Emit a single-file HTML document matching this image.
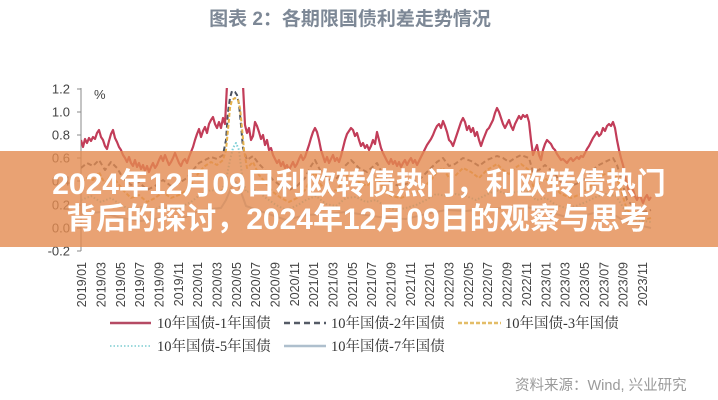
<!DOCTYPE html>
<html><head><meta charset="utf-8"><style>
html,body{margin:0;padding:0;background:#fff;}
svg{display:block;}
</style></head><body>
<svg width="718" height="400" viewBox="0 0 718 400" xmlns="http://www.w3.org/2000/svg">
<rect width="718" height="400" fill="#fff"/>
<text x="350" y="25" text-anchor="middle" font-family="Liberation Sans, Noto Sans CJK SC, sans-serif" font-size="19" font-weight="bold" fill="#7d8896">图表 2：各期限国债利差走势情况</text>

<!-- y axis -->
<g stroke="#888" stroke-width="1" fill="none">
<line x1="81" y1="88" x2="81" y2="251"/>
<line x1="77" y1="89" x2="81" y2="89"/>
<line x1="77" y1="112" x2="81" y2="112"/>
<line x1="77" y1="135" x2="81" y2="135"/>
<line x1="77" y1="158" x2="81" y2="158"/>
<line x1="77" y1="181" x2="81" y2="181"/>
<line x1="77" y1="205" x2="81" y2="205"/>
<line x1="77" y1="228" x2="81" y2="228"/>
<line x1="77" y1="251" x2="81" y2="251"/>
</g>
<g font-family="Liberation Sans, sans-serif" font-size="13" fill="#444" text-anchor="end">
<text x="70" y="93.5">1.2</text>
<text x="70" y="116.5">1.0</text>
<text x="70" y="139.5">0.8</text>
<text x="70" y="162.5">0.6</text>
<text x="70" y="185.5">0.4</text>
<text x="70" y="209.5">0.2</text>
<text x="70" y="232.5">0.0</text>
<text x="70" y="255.5">-0.2</text>
</g>
<text x="94" y="99" font-family="Liberation Sans, sans-serif" font-size="13" fill="#444">%</text>

<defs><clipPath id="cp"><rect x="81" y="88" width="580" height="165"/></clipPath></defs>
<g clip-path="url(#cp)" fill="none" stroke-linejoin="round">
<polyline stroke="#c23d59" stroke-width="2.2" points="81,140 83,147 85,139 87,143 89,138 91,141 93,137 95,139 97,133 99,130 101,137 103,140 105,146 107,149 109,141 111,134 113,130 115,138 117,142 119,147 121,150 123,155 125,158 127,162 129,157 131,163 133,166 135,160 137,167 139,163 141,169 143,165 145,171 147,166 149,172 151,167 153,163 155,168 157,165 159,160 161,156 163,161 165,155 167,160 169,165 171,162 173,158 175,153 177,158 179,163 181,166 183,161 185,159 187,163 189,157 191,152 193,147 195,140 197,134 199,129 201,137 203,131 205,127 207,133 209,124 211,120 213,117 215,124 217,128 219,122 221,128 223,118 225,124 227,85 243,85 245,125 247,133 249,128 251,140 253,136 255,122 257,126 259,132 261,139 263,135 265,145 267,140 269,150 271,148 273,155 275,159 277,163 279,160 281,166 283,162 285,168 287,165 289,170 291,166 293,162 295,167 297,164 299,159 301,155 303,160 305,157 307,151 309,145 311,138 313,132 315,128 317,132 319,140 321,150 323,156 325,162 327,157 329,163 331,159 333,155 335,161 337,158 339,162 341,156 343,148 345,140 347,134 349,131 351,128 353,130 355,136 357,133 359,140 361,146 363,143 365,148 367,145 369,150 371,146 373,140 375,144 377,132 379,140 381,148 383,153 385,157 387,161 389,164 391,159 393,164 395,161 397,166 399,162 401,167 403,163 405,160 407,165 409,161 411,158 413,163 415,160 417,165 419,161 421,157 423,153 425,149 427,145 429,142 431,139 433,135 435,130 437,126 439,124 441,128 443,121 445,126 447,132 449,140 451,142 453,146 455,140 457,134 459,128 461,122 463,118 465,122 467,130 469,126 471,132 473,128 475,136 477,132 479,140 481,146 483,140 485,135 487,130 489,128 491,124 493,120 495,113 497,108 499,112 501,118 503,124 505,128 507,124 509,120 511,126 513,130 515,124 517,120 519,116 521,119 523,115 525,117 527,115 529,122 531,140 533,155 535,150 537,145 539,155 541,160 543,150 545,144 547,140 549,142 551,144 553,148 555,150 557,154 559,157 561,160 563,159 565,161 567,163 569,160 571,158 573,161 575,159 577,157 579,159 581,156 583,157 585,153 587,149 589,146 591,142 593,138 595,135 597,132 599,136 601,134 603,128 605,131 607,126 609,124 611,126 613,122 615,128 617,140 619,150 621,158 623,165 625,175 627,185 629,192 631,195 633,190 635,196 637,200 639,195 641,198 643,203 645,198 647,195 649,200 651,197"/>
<polyline stroke="#4b5260" stroke-width="2" stroke-dasharray="5,3" points="81,168 87,163 93,166 99,160 105,170 111,162 117,168 123,178 131,185 139,182 147,190 155,186 163,180 171,186 179,183 187,178 193,170 199,163 205,160 211,157 217,159 223,155 226,140 228,112 230,98 232,91 235,92 237,95 239,104 241,125 243,148 247,160 253,156 259,164 265,170 273,180 281,186 289,190 297,186 305,178 311,166 315,160 321,172 329,180 337,178 345,166 351,160 359,168 367,172 377,163 383,175 391,184 401,186 411,182 421,178 431,168 437,162 443,158 449,166 455,164 463,158 471,161 479,166 487,160 497,156 503,158 509,162 515,158 521,155 529,158 533,172 539,170 545,165 553,172 561,182 571,186 581,182 589,175 597,166 605,162 613,158 617,165 621,178 627,200 635,208 643,212 651,210"/>
<polyline stroke="#e6b24c" stroke-width="2" stroke-dasharray="4,2" points="81,182 87,178 93,180 99,172 105,184 111,175 117,182 123,190 131,198 139,195 147,202 155,198 163,192 171,198 179,195 187,190 193,182 199,172 205,166 211,162 217,165 223,160 226,150 228,130 230,108 232,100 235,98 238,100 240,108 242,128 244,150 247,168 253,162 259,175 265,182 273,192 281,198 289,202 297,198 305,190 311,178 315,172 321,185 329,192 337,190 345,178 351,172 359,182 367,186 377,176 383,188 391,196 401,198 411,194 421,190 431,180 437,172 443,168 449,178 455,176 463,168 471,172 479,178 487,170 497,164 503,170 509,174 515,168 521,164 529,170 533,186 539,184 545,178 553,186 561,194 571,198 581,194 589,188 597,178 605,174 613,170 617,178 621,190 627,210 635,216 643,220 651,218"/>
<polyline stroke="#7fd0d6" stroke-width="2" stroke-dasharray="1.5,2" points="81,200 91,196 101,202 111,198 121,205 131,210 141,207 151,212 161,206 171,210 181,207 191,202 201,194 211,190 221,192 226,180 230,160 233,148 236,143 239,150 242,175 246,192 256,190 266,198 276,205 286,210 296,206 306,200 316,196 326,204 336,206 346,198 356,197 366,202 376,200 386,207 396,210 406,208 416,205 426,200 436,194 446,196 456,194 466,196 476,200 486,195 496,190 506,194 516,192 526,190 536,200 546,198 556,205 566,208 576,206 586,202 596,197 606,194 616,196 626,212 636,220 651,222"/>
<polyline stroke="#a9bdcc" stroke-width="2" points="81,214 101,212 121,218 141,221 161,218 181,219 201,210 221,208 226,200 231,188 236,182 241,192 246,206 266,213 286,220 306,215 326,214 346,212 366,215 386,218 406,219 426,214 446,210 466,211 486,209 506,208 526,207 546,211 566,217 586,215 606,210 626,222 651,228"/>
</g>

<!-- x labels -->
<g font-family="Liberation Sans, sans-serif" font-size="12.5" fill="#444" text-anchor="end">
<text transform="translate(86.1,262) rotate(-90)">2019/01</text>
<text transform="translate(105.4,262) rotate(-90)">2019/03</text>
<text transform="translate(124.8,262) rotate(-90)">2019/05</text>
<text transform="translate(144.1,262) rotate(-90)">2019/07</text>
<text transform="translate(163.5,262) rotate(-90)">2019/09</text>
<text transform="translate(182.8,262) rotate(-90)">2019/11</text>
<text transform="translate(202.1,262) rotate(-90)">2020/01</text>
<text transform="translate(221.5,262) rotate(-90)">2020/03</text>
<text transform="translate(240.8,262) rotate(-90)">2020/05</text>
<text transform="translate(260.2,262) rotate(-90)">2020/07</text>
<text transform="translate(279.5,262) rotate(-90)">2020/09</text>
<text transform="translate(298.8,262) rotate(-90)">2020/11</text>
<text transform="translate(318.2,262) rotate(-90)">2021/01</text>
<text transform="translate(337.5,262) rotate(-90)">2021/03</text>
<text transform="translate(356.9,262) rotate(-90)">2021/05</text>
<text transform="translate(376.2,262) rotate(-90)">2021/07</text>
<text transform="translate(395.5,262) rotate(-90)">2021/09</text>
<text transform="translate(414.9,262) rotate(-90)">2021/11</text>
<text transform="translate(434.2,262) rotate(-90)">2022/01</text>
<text transform="translate(453.6,262) rotate(-90)">2022/03</text>
<text transform="translate(472.9,262) rotate(-90)">2022/05</text>
<text transform="translate(492.2,262) rotate(-90)">2022/07</text>
<text transform="translate(511.6,262) rotate(-90)">2022/09</text>
<text transform="translate(530.9,262) rotate(-90)">2022/11</text>
<text transform="translate(550.3,262) rotate(-90)">2023/01</text>
<text transform="translate(569.6,262) rotate(-90)">2023/03</text>
<text transform="translate(588.9,262) rotate(-90)">2023/05</text>
<text transform="translate(608.3,262) rotate(-90)">2023/07</text>
<text transform="translate(627.6,262) rotate(-90)">2023/09</text>
<text transform="translate(647,262) rotate(-90)">2023/11</text>
</g>

<!-- legend -->
<line x1="110" y1="323" x2="151" y2="323" stroke="#b54a64" stroke-width="2.5"/>
<line x1="284" y1="323" x2="326" y2="323" stroke="#555b66" stroke-width="2.5" stroke-dasharray="6,4"/>
<line x1="458" y1="323" x2="501" y2="323" stroke="#e3bd68" stroke-width="2.5" stroke-dasharray="4,2"/>
<line x1="110" y1="346" x2="151" y2="346" stroke="#9cd9dc" stroke-width="2" stroke-dasharray="1.5,2"/>
<line x1="284" y1="346" x2="326" y2="346" stroke="#aebfcd" stroke-width="2.5"/>
<g font-family="Liberation Serif, Noto Serif CJK SC, serif" font-size="14.5" fill="#333">
<text x="157" y="328">10年国债-1年国债</text>
<text x="331" y="328">10年国债-2年国债</text>
<text x="505" y="328">10年国债-3年国债</text>
<text x="157" y="351">10年国债-5年国债</text>
<text x="331" y="351">10年国债-7年国债</text>
</g>

<text x="515" y="390" font-family="Liberation Sans, Noto Sans CJK SC, sans-serif" font-size="14.5" fill="#9a9a9a">资料来源：Wind, 兴业研究</text>

<!-- banner -->
<rect x="0" y="151" width="718" height="96" fill="rgb(228,139,80)" opacity="0.8"/>
<g font-family="Liberation Sans, Noto Sans CJK SC, sans-serif" font-size="30" font-weight="bold" fill="#fff" text-anchor="middle">
<text x="359" y="194">2024年12月09日利欧转债热门，利欧转债热门</text>
<text x="358" y="229">背后的探讨，2024年12月09日的观察与思考</text>
</g>
</svg>
</body></html>
